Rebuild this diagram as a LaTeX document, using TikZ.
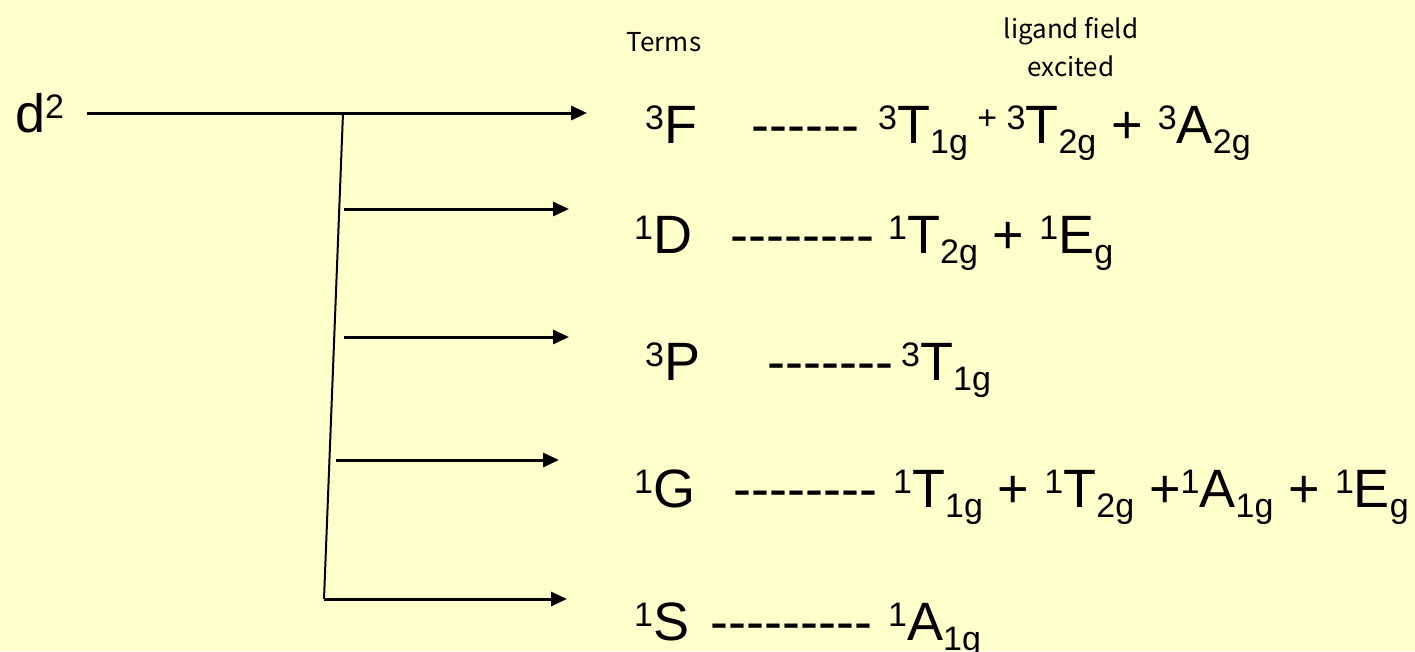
\documentclass[tikz,border=0pt]{standalone}
\usepackage{fontspec}
\usetikzlibrary{arrows.meta}
\newfontfamily\arl{Liberation Sans}
\newfontfamily\jp{Noto Sans CJK JP}
\definecolor{bgyellow}{HTML}{FFFFCC}
\newcommand\Sp[1]{\raisebox{14pt}{\fontsize{34}{34}\selectfont #1}}
\newcommand\Sb[1]{\raisebox{-10pt}{\fontsize{34}{34}\selectfont #1}}
\tikzset{
  txt/.style={anchor=base west, inner sep=0pt, font=\arl\fontsize{54}{60}\selectfont},
  hdr/.style={anchor=center, inner sep=0pt, align=center, font=\jp\fontsize{26}{38}\selectfont},
  arr/.style={line width=3pt, -{Triangle[length=16pt,width=14pt]}},
  stem/.style={line width=2pt}
}
\begin{document}
\begin{tikzpicture}[x=1pt,y=-1pt]
\useasboundingbox (0,0) rectangle (1415,651);
\fill[bgyellow] (0,0) rectangle (1415,651);
% headers
\node[hdr] (terms) at (664,42) {Terms};
\node[hdr] (lf) at (1071,47) {ligand field\\excited};
% d2
\node[txt] (d2) at (15,132) {d\Sp{2}};
% coordinates
\coordinate (m0) at (87,113);
\coordinate (m1) at (587,113);
\coordinate (top) at (343,113);
\coordinate (bot) at (324,599);
\coordinate (b2s) at (344,209); \coordinate (b2e) at (569,209);
\coordinate (b3s) at (344,337); \coordinate (b3e) at (569,337);
\coordinate (b4s) at (336,460); \coordinate (b4e) at (559,460);
\coordinate (b5e) at (567,599);
\draw[arr] (m0) -- (m1);
\draw[stem] (top) -- (bot);
\draw[arr] (b2s) -- (b2e);
\draw[arr] (b3s) -- (b3e);
\draw[arr] (b4s) -- (b4e);
\draw[arr] (bot) -- (b5e);
% row 1
\node[txt] (t1) at (645,143) {\Sp{3}F};
\node[txt] (h1) at (751,143) {------};
\node[txt] (r1) at (878,143) {\Sp{3}T\Sb{1g}\Sp{\ + 3}T\Sb{2g} + \Sp{3}A\Sb{2g}};
% row 2
\node[txt] (t2) at (634,253) {\Sp{1}D};
\node[txt] (h2) at (730,253) {--------};
\node[txt] (r2) at (888,253) {\Sp{1}T\Sb{2g} + \Sp{1}E\Sb{g}};
% row 3
\node[txt] (t3) at (645,380) {\Sp{3}P};
\node[txt] (h3) at (767,380) {-------};
\node[txt] (r3) at (901,380) {\Sp{3}T\Sb{1g}};
% row 4
\node[txt] (t4) at (634,507) {\Sp{1}G};
\node[txt] (h4) at (733,507) {--------};
\node[txt] (r4) at (893,507) {\Sp{1}T\Sb{1g} + \Sp{1}T\Sb{2g} +\Sp{1}A\Sb{1g} + \Sp{1}E\Sb{g}};
% row 5
\node[txt] (t5) at (634,640) {\Sp{1}S};
\node[txt] (h5) at (710,640) {---------};
\node[txt] (r5) at (888,640) {\Sp{1}A\Sb{1g}};
\end{tikzpicture}
\end{document}
